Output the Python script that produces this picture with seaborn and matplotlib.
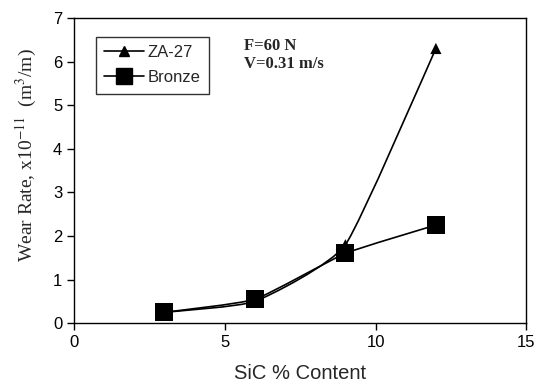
import numpy as np
import pandas as pd
import matplotlib
matplotlib.use("Agg")
import matplotlib.pyplot as plt
from matplotlib.path import Path
from matplotlib.patches import PathPatch
from matplotlib.lines import Line2D
import seaborn as sns

# data
sic = [3, 6, 9, 12]
za27 = [0.25, 0.50, 1.80, 6.30]
bronze = [0.25, 0.55, 1.60, 2.25]

df = pd.DataFrame({
    "SiC": sic * 2,
    "wear": za27 + bronze,
    "alloy": ["ZA-27"] * 4 + ["Bronze"] * 4,
})

sns.set_style("ticks")
plt.rcParams["font.family"] = ["Liberation Sans", "DejaVu Sans"]
plt.rcParams["mathtext.fontset"] = "stix"

fig = plt.figure(figsize=(5.36, 3.82), dpi=100)
ax = fig.add_axes([0.138, 0.154, 0.844, 0.799])


def smooth_path(x, y, k=0.08):
    # smoothed line: cubic bezier segments through the points
    pts = np.column_stack([x, y]).astype(float)
    n = len(pts)
    verts = [pts[0]]
    codes = [Path.MOVETO]
    for i in range(n - 1):
        p0 = pts[i - 1] if i > 0 else pts[i]
        p1, p2 = pts[i], pts[i + 1]
        p3 = pts[i + 2] if i + 2 < n else pts[i + 1]
        c1 = p1 + (p2 - p0) * k
        c2 = p2 - (p3 - p1) * k
        verts += [c1, c2, p2]
        codes += [Path.CURVE4] * 3
    return Path(verts, codes)


for name in ["ZA-27", "Bronze"]:
    d = df[df["alloy"] == name]
    ax.add_patch(PathPatch(smooth_path(d["SiC"], d["wear"]), fill=False,
                           edgecolor="black", lw=1.2, zorder=2))

sns.scatterplot(data=df, x="SiC", y="wear", style="alloy",
                markers={"ZA-27": "^", "Bronze": "s"},
                size="alloy", sizes={"ZA-27": 65, "Bronze": 170},
                color="black", edgecolor="black", linewidth=0,
                legend=False, ax=ax, zorder=3)

ax.set_xlim(0, 15)
ax.set_ylim(0, 7)
ax.set_xticks([0, 5, 10, 15])
ax.set_yticks(range(0, 8))
ax.tick_params(direction="out", length=5, width=1, labelsize=12, colors="black")
for s in ax.spines.values():
    s.set_visible(True)
    s.set_color("black")
    s.set_linewidth(1)

ax.set_xlabel("SiC % Content", fontsize=14.5, labelpad=10)
ax.set_ylabel(r"Wear Rate, x10$^{-11}$  (m$^{3}$/m)", fontsize=14,
              family="Liberation Serif")
ax.yaxis.set_label_coords(-0.078, 0.55)

handles = [
    Line2D([], [], color="black", lw=1.2, marker="^", markersize=7),
    Line2D([], [], color="black", lw=1.2, marker="s", markersize=11),
]
leg = ax.legend(handles, ["ZA-27", "Bronze"], loc="upper left",
                bbox_to_anchor=(0.03, 0.965), frameon=True, fancybox=False,
                edgecolor="black", fontsize=12, handlelength=2.4,
                handletextpad=0.2, borderpad=0.5, labelspacing=0.6)
leg.get_frame().set_linewidth(1)

ax.text(5.65, 6.55, "F=60 N\nV=0.31 m/s", fontsize=12, fontweight="bold",
        family="Liberation Serif", va="top", ha="left", linespacing=1.2)

fig.savefig("out.png", dpi=100)
